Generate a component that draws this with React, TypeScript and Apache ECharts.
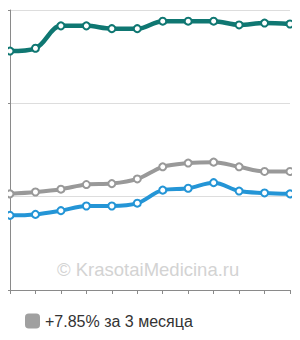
import React, { useEffect, useRef } from "react";
import * as echarts from "echarts";

const categories = ["1", "2", "3", "4", "5", "6", "7", "8", "9", "10", "11", "12"];
const tealValues = [256, 259, 283, 283, 280, 280, 288, 288, 288, 284, 286, 285];
const greyValues = [103, 105, 108, 113, 114, 119, 132, 136, 137, 132, 127, 127];
const blueValues = [80, 81, 85, 90, 90, 93, 107, 109, 115, 106, 104, 103];
const legendLabel = "+7.85% за 3 месяца";
const watermark = "© KrasotaiMedicina.ru";

export default function App() {
  const ref = useRef<HTMLDivElement>(null);
  useEffect(() => {
    if (!ref.current) return;
    const chart = echarts.init(ref.current, undefined, { renderer: "svg" });
    const mk = (name: string, data: number[], color: string, width: number) => ({
      name,
      type: "line",
      data,
      smooth: 0.35,
      symbol: "emptyCircle",
      symbolSize: 7,
      lineStyle: { color, width },
      itemStyle: { color, borderColor: color, borderWidth: 1.2 },
      z: 3,
    });
    chart.setOption({
      animation: false,
      backgroundColor: "#ffffff",
      grid: { left: 10, right: 10, top: 10, bottom: 50 },
      xAxis: {
        type: "category",
        data: categories,
        boundaryGap: false,
        axisLine: { lineStyle: { color: "#8a8a8a", width: 1 } },
        axisTick: { show: true, length: 4, lineStyle: { color: "#8a8a8a" } },
        axisLabel: { show: false },
        splitLine: { show: false },
      },
      yAxis: {
        type: "value",
        min: 0,
        max: 300,
        interval: 100,
        axisLine: { show: true, lineStyle: { color: "#8a8a8a", width: 1 } },
        axisTick: { show: true, length: 5, lineStyle: { color: "#8a8a8a" } },
        axisLabel: { show: false },
        splitLine: { show: true, lineStyle: { color: "#dddddd", width: 1 } },
      },
      legend: {
        left: 20,
        top: 308,
        icon: "roundRect",
        itemWidth: 15,
        itemHeight: 15,
        itemGap: 10,
        data: [{ name: legendLabel, itemStyle: { color: "#a0a0a0", borderWidth: 0 } }],
        textStyle: { color: "#333333", fontSize: 16, fontFamily: "Arial, 'Liberation Sans', sans-serif" },
        selectedMode: false,
      },
      graphic: [
        {
          type: "text",
          left: 57,
          top: 260,
          z: 1,
          style: {
            text: watermark,
            fill: "#d3d3d3",
            fontSize: 18.5,
            fontFamily: "Arial, 'Liberation Sans', sans-serif",
          },
        },
      ],
      series: [
        mk("teal", tealValues, "#0f7772", 4.5),
        mk(legendLabel, greyValues, "#999999", 4),
        mk("blue", blueValues, "#2495d6", 4),
      ],
    });
    return () => chart.dispose();
  }, []);
  return <div ref={ref} style={{ width: 300, height: 340, margin: -8 }} />;
}
